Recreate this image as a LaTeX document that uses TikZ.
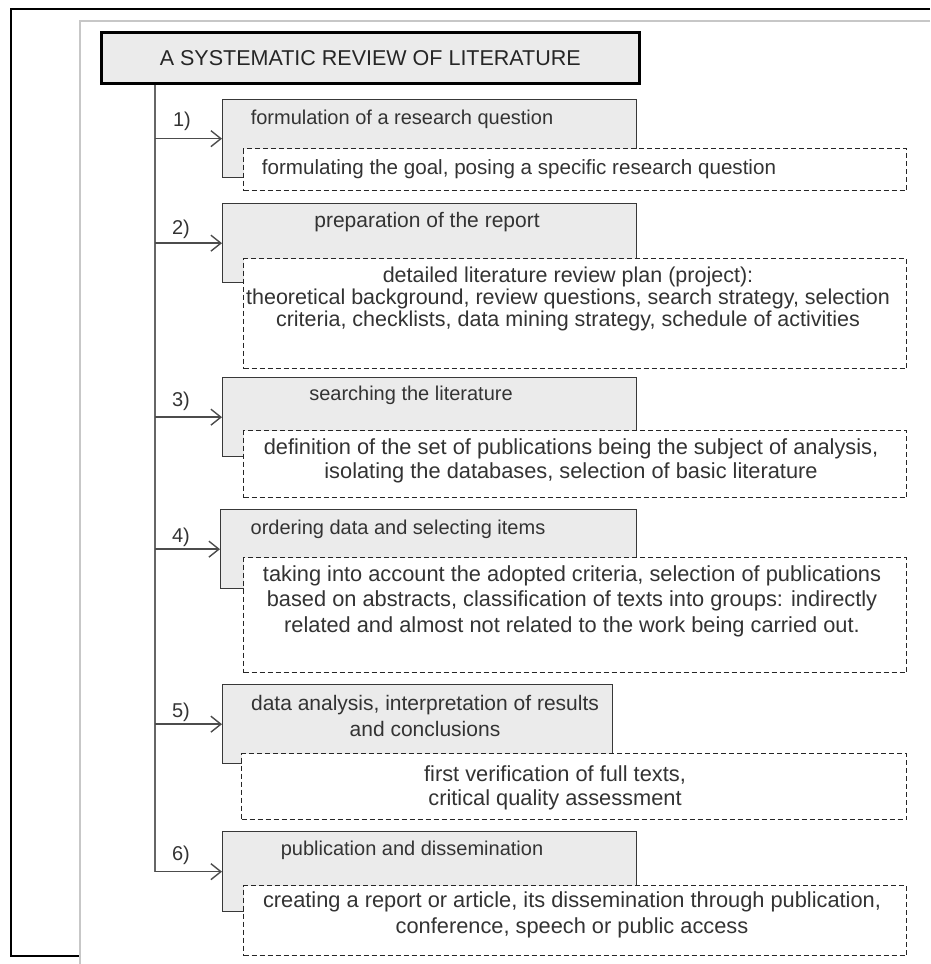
\documentclass[tikz,border=0pt]{standalone}
\usepackage{fontspec}
\setmainfont{Liberation Sans}
\usetikzlibrary{arrows.meta}
\begin{document}
\begin{tikzpicture}[x=1pt,y=-1pt,
  graybox/.style={draw=black!78, line width=1.3pt, fill=black!8, anchor=north west, inner sep=0pt},
  dashbox/.style={draw=black!85, line width=1pt, dash pattern=on 5pt off 3pt, fill=white, anchor=north west, inner sep=0pt},
  lbl/.style={font=\fontsize{20}{22}\selectfont, text=black!80, inner sep=0pt, align=center},
  dlbl/.style={lbl, font=\fontsize{21.8}{24}\selectfont},
  num/.style={font=\fontsize{20}{22}\selectfont, text=black!80, inner sep=0pt},
  conn/.style={draw=black!70, line width=1.4pt, -{Straight Barb[length=10pt,width=16pt,line width=1.4pt]}},
  trunkline/.style={draw=black!60, line width=1.6pt}]
\useasboundingbox (0,0) rectangle (930,964);
% page frame
\draw[black, line width=1.5pt] (930,9) -- (11,9) -- (11,956) -- (80,956);
\draw[black!22, line width=1.5pt] (930,21) -- (80,21) -- (80,964);
% title
\node[draw=black, line width=2.6pt, fill=black!8, anchor=north west, minimum width=538pt, minimum height=51pt, inner sep=0pt, font=\fontsize{21.5}{24}\selectfont, text=black!85] (title) at (100,31) {A SYSTEMATIC REVIEW OF LITERATURE};
\coordinate (tr) at (155,83);
% gray boxes
\node[graybox, minimum width=414pt, minimum height=78pt] (g1) at (222,99) {};
\node[graybox, minimum width=414pt, minimum height=79pt] (g2) at (222,203) {};
\node[graybox, minimum width=414pt, minimum height=79pt] (g3) at (222,377) {};
\node[graybox, minimum width=416pt, minimum height=79pt] (g4) at (220,509) {};
\node[graybox, minimum width=390pt, minimum height=79pt] (g5) at (222,684) {};
\node[graybox, minimum width=414pt, minimum height=80pt] (g6) at (222,831) {};
% dashed boxes
\node[dashbox, minimum width=663pt, minimum height=42pt] (d1) at (243,148) {};
\node[dashbox, minimum width=663pt, minimum height=110pt] (d2) at (243,258) {};
\node[dashbox, minimum width=663pt, minimum height=67pt] (d3) at (243,430) {};
\node[dashbox, minimum width=663pt, minimum height=115pt] (d4) at (243,557) {};
\node[dashbox, minimum width=665pt, minimum height=66pt] (d5) at (241,753) {};
\node[dashbox, minimum width=663pt, minimum height=70pt] (d6) at (243,885) {};
% trunk and arrows
\draw[trunkline] (title.south -| tr) -- (tr |- g6.west);
\draw[conn] (tr |- g1.west) -- (g1.west);
\draw[conn] (tr |- g2.west) -- (g2.west);
\draw[conn] (tr |- g3.west) -- (g3.west);
\draw[conn] (tr |- g4.west) -- (g4.west);
\draw[conn] (tr |- g5.west) -- (g5.west);
\draw[conn] (tr |- g6.west) -- (g6.west);
% numbers
\node[num] (n1) at (182,121) {1)};
\node[num] (n2) at (181,229) {2)};
\node[num] (n3) at (181,401) {3)};
\node[num] (n4) at (181,537) {4)};
\node[num] (n5) at (181,712) {5)};
\node[num] (n6) at (181,855) {6)};
% gray box texts
\node[lbl] (t1) at (402,119) {formulation of a research question};
\node[lbl, font=\fontsize{21}{22}\selectfont] (t2) at (427,222) {preparation of the report};
\node[lbl] (t3) at (411,395) {searching the literature};
\node[lbl] (t4) at (398,529) {ordering data and selecting items};
\node[lbl, font=\fontsize{21}{26}\selectfont] (t5) at (425,716) {data analysis, interpretation of results\\and conclusions};
\node[lbl] (t6) at (412,850) {publication and dissemination};
% dashed box texts
\node[dlbl, font=\fontsize{20.6}{24}\selectfont] (s1) at (519,169) {formulating the goal, posing a specific research question};
\node[dlbl, font=\fontsize{21.5}{22}\selectfont] (s2) at (568,299) {detailed literature review plan (project):\\theoretical background, review questions, search strategy, selection\\criteria, checklists, data mining strategy, schedule of activities};
\node[dlbl, font=\fontsize{21.8}{24}\selectfont] (s3) at (571,461) {definition of the set of publications being the subject of analysis,\\isolating the databases, selection of basic literature};
\node[dlbl, font=\fontsize{21.8}{25.5}\selectfont] (s4) at (572,601) {taking into account the adopted criteria, selection of publications\\based on abstracts, classification of texts into groups: indirectly\\related and almost not related to the work being carried out.};
\node[dlbl, font=\fontsize{21.8}{24}\selectfont] (s5) at (555,788) {first verification of full texts,\\critical quality assessment};
\node[dlbl, font=\fontsize{21.8}{26}\selectfont] (s6) at (572,915) {creating a report or article, its dissemination through publication,\\conference, speech or public access};
\end{tikzpicture}
\end{document}
